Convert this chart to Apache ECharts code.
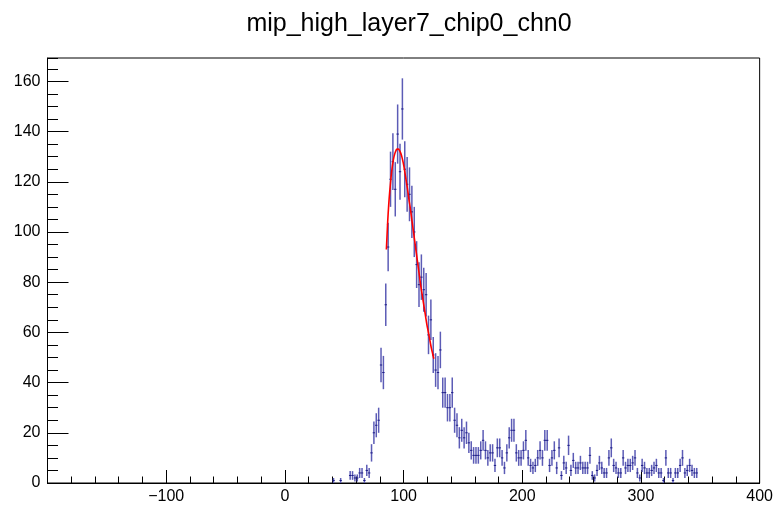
<!DOCTYPE html>
<html>
<head>
<meta charset="utf-8">
<script src="https://cdn.jsdelivr.net/npm/echarts@6/dist/echarts.min.js"></script>
<style>
  html, body { margin: 0; padding: 0; background: #fff; }
  #chart { width: 776px; height: 505px; }
</style>
</head>
<body>
<div id="chart"></div>
<script>
// histogram: bins of width 2, first bin centred at 41
const binStart = 41
const binWidth = 2
const counts = [
  1, 0, 0, 1, 0, 0, 0, 3, 3, 2,
  2, 4, 4, 1, 5, 4, 12, 20, 23, 25,
  47, 44, 71, 94, 121, 128, 117, 139, 124, 149,
  125, 119, 115, 108, 100, 87, 79, 82, 77, 75,
  59, 65, 51, 45, 44, 53, 36, 36, 30, 30,
  36, 25, 23, 18, 21, 18, 20, 16, 13, 11,
  11, 11, 13, 17, 13, 10, 12, 12, 7, 14,
  14, 10, 6, 12, 18, 21, 21, 12, 10, 10,
  13, 17, 10, 7, 6, 7, 10, 13, 10, 17,
  17, 7, 10, 13, 6, 14, 3, 8, 6, 15,
  5, 9, 6, 6, 8, 6, 6, 6, 11, 3,
  2, 5, 8, 6, 4, 4, 10, 14, 7, 6,
  4, 4, 10, 6, 7, 7, 8, 10, 4, 2,
  7, 6, 4, 4, 5, 6, 7, 4, 4, 1,
  10, 4, 4, 1, 4, 4, 7, 10, 4, 5,
  7, 5, 4, 4,
]

// fit curve
const fitX = [
  85.5, 86.5, 87.5, 88.5, 89.5, 90.5, 91.5, 92.5, 93.5, 94.5,
  95.5, 96.5, 97.5, 98.5, 99.5, 100.5, 101.5, 102.5, 103.5, 104.5,
  105.5, 106.5, 107.5, 108.5, 109.5, 110.5, 111.5, 112.5, 113.5, 114.5,
  115.5, 116.5, 117.5, 118.5, 119.5, 120.5, 121.5, 122.5, 123.5, 124.5,
  125.5,
]
const fitY = [
  93, 103, 111, 117, 122, 126, 129, 131, 132.3, 133,
  133, 132.5, 131.5, 130, 128, 125.5, 122.5, 119.5, 116.5, 113,
  110, 106.5, 103, 99.5, 96, 92.5, 89, 85.5, 82, 78.5,
  75.5, 72.5, 69.5, 66.5, 63.5, 61, 58.5, 56, 53.5, 51.5,
  49.5,
]

const title = 'mip_high_layer7_chip0_chn0'
const xMin = -200
const xMax = 400
const yMax = 169.3

const font = 'Liberation Sans, Arial, sans-serif'
const points = counts
  .map((c, i) => [binStart + i * binWidth, c])
  .filter((d) => d[1] > 0)

const myChart = echarts.init(document.getElementById('chart'))
const option = {
  animation: false,
  backgroundColor: '#fff',
  title: {
    text: title,
    left: 404,
    top: 7,
    textAlign: 'center',
    textStyle: { fontFamily: font, fontSize: 25, fontWeight: 'normal', color: '#000' },
  },
  grid: {
    left: 47.5,
    right: 16,
    top: 58,
    bottom: 19,
    show: true,
    borderColor: '#000',
    borderWidth: 1,
  },
  xAxis: {
    type: 'value',
    min: xMin,
    max: xMax,
    interval: 100,
    splitLine: { show: false },
    axisLine: { onZero: false, lineStyle: { color: '#000' } },
    axisTick: { inside: true, length: 13, lineStyle: { color: '#000' } },
    minorTick: { show: true, splitNumber: 5, length: 6.5, lineStyle: { color: '#000' } },
    axisLabel: {
      color: '#000',
      fontFamily: font,
      fontSize: 16,
      margin: 6,
      showMinLabel: false,
      formatter: (v) => String(v).replace('-', '\u2212'),
    },
  },
  yAxis: [
    {
      type: 'value',
      min: 0,
      max: yMax,
      interval: 20,
      position: 'left',
      splitLine: { show: false },
      axisLine: { show: true, onZero: false, lineStyle: { color: '#000' } },
      axisTick: { inside: true, length: 21, lineStyle: { color: '#000' } },
      axisLabel: {
        color: '#000',
        fontFamily: font,
        fontSize: 16,
        margin: 7,
        showMaxLabel: false,
      },
    },
    {
      type: 'value',
      min: 0,
      max: yMax,
      interval: 5,
      position: 'left',
      offset: 0,
      splitLine: { show: false },
      axisLine: { show: false, onZero: false },
      axisTick: { inside: true, length: 10.5, lineStyle: { color: '#000' } },
      axisLabel: { show: false },
    },
  ],
  series: [
    {
      type: 'custom',
      clip: true,
      data: points,
      renderItem: (params, api) => {
        const x = api.value(0)
        const y = api.value(1)
        const e = Math.sqrt(y)
        const top = api.coord([x, y + e])
        const bot = api.coord([x, Math.max(y - e, 0)])
        const l = api.coord([x - binWidth / 2, y])
        const r = api.coord([x + binWidth / 2, y])
        return {
          type: 'group',
          children: [
            {
              type: 'line',
              shape: { x1: top[0], y1: top[1], x2: bot[0], y2: bot[1] },
              style: { stroke: '#5c5cb6', lineWidth: 1.5 },
            },
            {
              type: 'line',
              shape: { x1: l[0], y1: l[1], x2: r[0], y2: r[1] },
              style: { stroke: '#1c1c86', lineWidth: 1 },
            },
          ],
        }
      },
    },
    {
      type: 'line',
      data: fitX.map((x, i) => [x, fitY[i]]),
      showSymbol: false,
      symbol: 'none',
      smooth: true,
      z: 5,
      lineStyle: { color: '#ff0000', width: 1.6 },
    },
  ],
}
myChart.setOption(option)
</script>
</body>
</html>
